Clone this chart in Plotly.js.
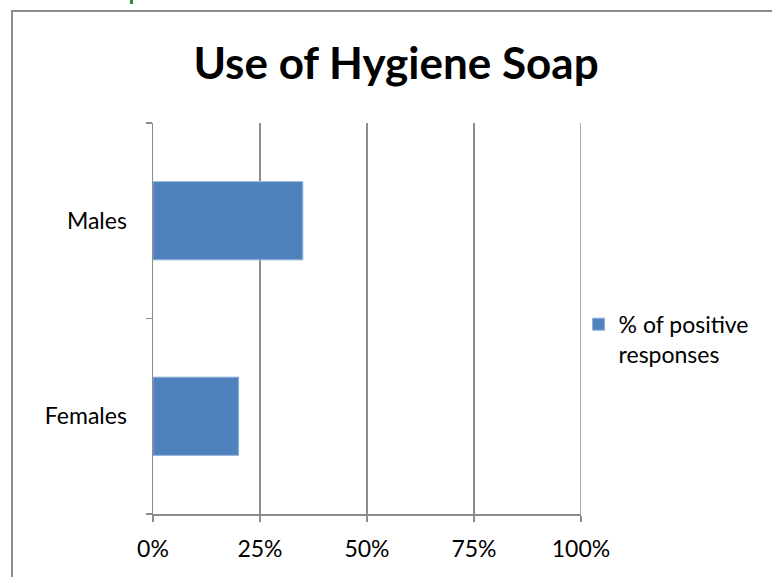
<!DOCTYPE html>
<html>
<head>
<meta charset="utf-8">
<script src="https://cdn.plot.ly/plotly-3.0.1.min.js"></script>
<style>
html,body{margin:0;padding:0;background:#fff;}
#wrap{position:relative;width:772px;height:577px;overflow:hidden;}
#chart{position:absolute;left:0;top:0;width:772px;height:577px;}
#frame{position:absolute;left:11px;top:10px;width:800px;height:600px;border-top:2px solid #8c8c8c;border-left:2px solid #8c8c8c;pointer-events:none;}
#mark{position:absolute;left:130px;top:0px;width:3px;height:4px;background:#2e8b2e;}
</style>
</head>
<body>
<div id="wrap">
<div id="chart"></div>
<div id="frame"></div>
<div id="mark"></div>
</div>
<script>
const categories = ['Females', 'Males'];
const values = [0.20, 0.35];
const seriesName = '% of positive<br>responses';
const xTicks = [0, 0.25, 0.5, 0.75, 1];
const xTickLabels = ['0%', '25%', '50%', '75%', '100%'];

const FONT = 'Lato, "Open Sans", sans-serif';

const data = [{
  type: 'bar',
  orientation: 'h',
  y: categories,
  x: values,
  name: seriesName,
  marker: {color: '#4F81BD', line: {color: '#8FB0DA', width: 1}},
  width: 0.4,
  showlegend: true
}];

const layout = {
  width: 772,
  height: 577,
  margin: {l: 153, r: 191, t: 123, b: 63, pad: 0},
  paper_bgcolor: '#ffffff',
  plot_bgcolor: '#ffffff',
  font: {family: FONT, size: 23, color: '#000000'},
  title: {
    text: '<b>Use of Hygiene Soap</b>',
    font: {family: FONT, size: 44, color: '#000000'},
    x: 0.513, xanchor: 'center', xref: 'container',
    y: 0.89, yanchor: 'middle', yref: 'container'
  },
  xaxis: {
    range: [0, 1],
    tickvals: xTicks,
    ticktext: xTickLabels,
    showgrid: true,
    gridcolor: '#8c8c8c',
    gridwidth: 1.5,
    zeroline: false,
    showline: true,
    linecolor: '#8c8c8c',
    linewidth: 1.5,
    ticks: 'outside',
    ticklen: 6,
    tickwidth: 1.5,
    tickcolor: '#8c8c8c',
    ticklabelstandoff: 8,
    tickfont: {family: FONT, size: 23, color: '#000000'},
    fixedrange: true
  },
  yaxis: {
    type: 'category',
    categoryorder: 'array',
    categoryarray: categories,
    showgrid: false,
    zeroline: false,
    showline: true,
    linecolor: '#8c8c8c',
    linewidth: 1.5,
    ticks: 'outside',
    tickson: 'boundaries',
    ticklen: 6,
    tickwidth: 1.5,
    tickcolor: '#8c8c8c',
    ticklabelstandoff: 20,
    tickfont: {family: FONT, size: 23, color: '#000000'},
    fixedrange: true
  },
  shapes: [{
    type: 'line', xref: 'x', yref: 'paper',
    x0: xTicks[xTicks.length - 1], x1: xTicks[xTicks.length - 1], y0: 0, y1: 1,
    line: {color: '#8c8c8c', width: 1.5}, layer: 'below'
  }],
  legend: {
    x: 0.9944, xanchor: 'left',
    y: 0.447, yanchor: 'middle',
    valign: 'top',
    font: {family: FONT, size: 23, color: '#000000'},
    bgcolor: 'rgba(0,0,0,0)',
    itemwidth: 30,
    tracegroupgap: 0
  },
  showlegend: true
};

Plotly.newPlot('chart', data, layout, {staticPlot: true, displayModeBar: false});
</script>
</body>
</html>
